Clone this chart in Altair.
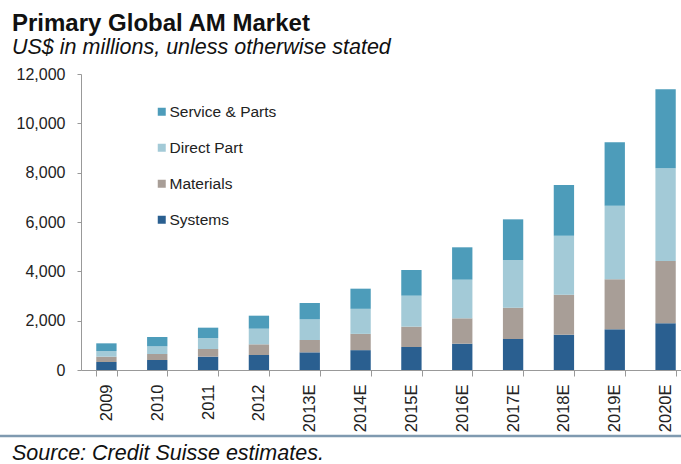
import altair as alt
import pandas as pd

# Market size by segment, US$ millions
years = ["2009", "2010", "2011", "2012", "2013E", "2014E", "2015E",
         "2016E", "2017E", "2018E", "2019E", "2020E"]
systems = [324, 405, 541, 608, 716, 805, 932, 1067, 1257, 1431, 1650, 1893]
materials = [217, 243, 310, 433, 500, 660, 825, 1028, 1269, 1622, 2026, 2525]
direct_part = [229, 312, 446, 634, 838, 1015, 1256, 1567, 1933, 2392, 2984, 3758]
service_parts = [311, 378, 419, 527, 662, 817, 1041, 1312, 1649, 2055, 2570, 3204]

segments = ["Service & Parts", "Direct Part", "Materials", "Systems"]
segment_colors = ["#4d9cba", "#a3cad7", "#a89e97", "#2a5f90"]

title_text = "Primary Global AM Market"
subtitle_text = "US$ in millions, unless otherwise stated"
source_text = "Source: Credit Suisse estimates."

FONT = "Liberation Sans"

rows = []
for series_name, values, rank in [
    ("Systems", systems, 0),
    ("Materials", materials, 1),
    ("Direct Part", direct_part, 2),
    ("Service & Parts", service_parts, 3),
]:
    for year, value in zip(years, values):
        rows.append({"year": year, "segment": series_name, "value": value, "rank": rank})
df = pd.DataFrame(rows)

bars = alt.Chart(df).mark_bar().encode(
    x=alt.X(
        "year:N",
        sort=years,
        scale=alt.Scale(range=[0, 610], paddingInner=0.6, paddingOuter=0.3),
        axis=alt.Axis(
            title=None,
            labelAngle=-90,
            labelFont=FONT,
            labelFontSize=16.5,
            labelColor="#222222",
            labelPadding=8,
            tickBand="extent",
            tickSize=6,
            tickColor="#999999",
            domainColor="#999999",
        ),
    ),
    y=alt.Y(
        "value:Q",
        stack="zero",
        scale=alt.Scale(domain=[0, 12000], nice=False),
        axis=alt.Axis(
            title=None,
            values=[0, 2000, 4000, 6000, 8000, 10000, 12000],
            format=",.0f",
            labelFont=FONT,
            labelFontSize=16,
            labelColor="#222222",
            labelPadding=12,
            tickSize=4,
            tickColor="#999999",
            domainColor="#999999",
            grid=False,
        ),
    ),
    color=alt.Color(
        "segment:N",
        scale=alt.Scale(domain=segments, range=segment_colors),
        legend=alt.Legend(
            title=None,
            orient="none",
            legendX=73,
            legendY=30,
            padding=0,
            symbolType="square",
            symbolSize=64,
            symbolStrokeWidth=0,
            labelFont=FONT,
            labelFontSize=15.5,
            labelColor="#222222",
            labelOffset=0,
            rowPadding=19,
        ),
    ),
    order=alt.Order("rank:Q", sort="ascending"),
)

title = alt.Chart(pd.DataFrame({"t": [title_text]})).mark_text(
    align="left", baseline="alphabetic", font=FONT, fontSize=24,
    fontWeight="bold", color="#111111",
).encode(text="t:N", x=alt.value(-69), y=alt.value(-43))

subtitle = alt.Chart(pd.DataFrame({"t": [subtitle_text]})).mark_text(
    align="left", baseline="alphabetic", font=FONT, fontSize=21.5,
    fontStyle="italic", color="#111111",
).encode(text="t:N", x=alt.value(-69), y=alt.value(-20))

source = alt.Chart(pd.DataFrame({"t": [source_text]})).mark_text(
    align="left", baseline="alphabetic", font=FONT, fontSize=21.5,
    fontStyle="italic", color="#111111",
).encode(text="t:N", x=alt.value(-69), y=alt.value(386))

# Full-width separator above the source line
separator = alt.Chart(pd.DataFrame({"k": [0]})).mark_rule(
    color="#7f9ab0", strokeWidth=2.5,
).encode(x=alt.value(-81), x2=alt.value(600), y=alt.value(362))

chart = alt.layer(bars, title, subtitle, source, separator).properties(
    width=600,
    height=296,
    autosize=alt.AutoSizeParams(type="none"),
    padding={"left": 81, "top": 74, "right": 0, "bottom": 94},
    background="white",
).configure_view(stroke=None)

chart.save("out.html", embed_options={"renderer": "svg", "actions": False})
